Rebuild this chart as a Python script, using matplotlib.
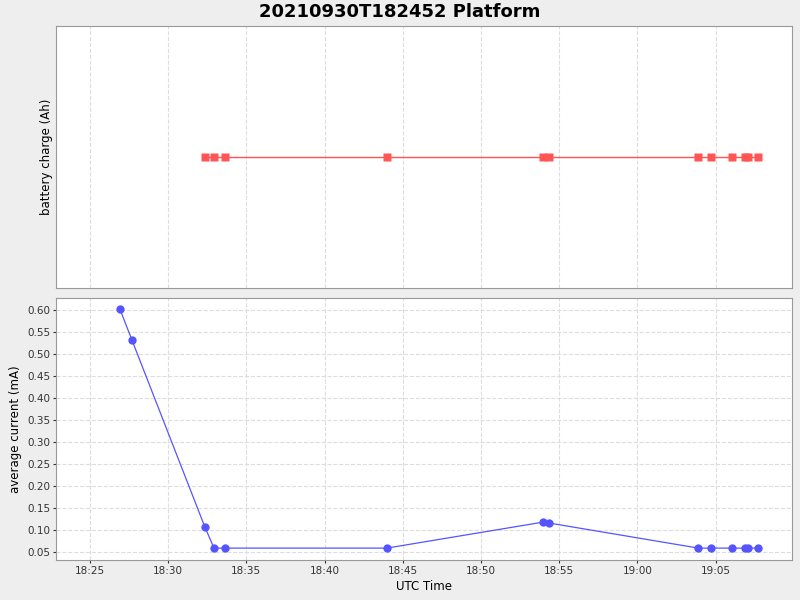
import datetime as dt
import matplotlib
matplotlib.use("Agg")
import matplotlib.pyplot as plt
import matplotlib.dates as mdates

# tempi (HH:MM:SS)
tempi_corrente = ["18:26:55", "18:27:41", "18:32:21", "18:32:56", "18:33:38",
                  "18:43:59", "18:53:58", "18:54:21", "19:03:54", "19:04:42",
                  "19:06:03", "19:06:54", "19:07:03", "19:07:42"]
corrente = [0.602, 0.532, 0.107, 0.059, 0.059, 0.059, 0.118, 0.116,
            0.059, 0.059, 0.059, 0.059, 0.059, 0.059]

tempi_carica = tempi_corrente[2:]
carica = [1.0] * len(tempi_carica)

giorno = dt.date(2021, 9, 30)
conv = lambda s: dt.datetime.combine(giorno, dt.datetime.strptime(s, "%H:%M:%S").time())
tc = [conv(s) for s in tempi_corrente]
tb = [conv(s) for s in tempi_carica]

fig = plt.figure(figsize=(8, 6), dpi=100, facecolor="#eeeeee")
ax1 = fig.add_axes([0.07, 1 - 288 / 600, 0.92, 262 / 600])
ax2 = fig.add_axes([0.07, 1 - 560 / 600, 0.92, 262 / 600], sharex=ax1)

fig.suptitle("20210930T182452 Platform", fontsize=13, fontweight="bold", y=0.995)

ax1.plot(tb, carica, color="#ff5555", lw=1, marker="s", ms=6, mec="none")
ax1.set_ylim(0.5, 1.5)
ax1.set_yticks([])
ax1.set_ylabel("battery charge (Ah)", fontsize=8.5, labelpad=2)
ax1.grid(True, axis="x", ls="--", color="#dddddd", lw=0.8)

ax2.plot(tc, corrente, color="#5555ff", lw=0.9, marker="o", ms=6, mec="none")
ax2.set_ylim(0.032, 0.627)
ax2.set_yticks([0.05 * i for i in range(1, 13)])
ax2.yaxis.set_major_formatter(plt.FormatStrFormatter("%.2f"))
ax2.set_ylabel("average current (mA)", fontsize=8.5, labelpad=4)
ax2.set_xlabel("UTC Time", fontsize=8.5, labelpad=3)
ax2.grid(True, ls="--", color="#dddddd", lw=0.8)

ax2.set_xlim(conv("18:22:50"), conv("19:09:53"))
ax2.xaxis.set_major_locator(mdates.MinuteLocator(byminute=range(0, 60, 5)))
ax2.xaxis.set_major_formatter(mdates.DateFormatter("%H:%M"))

for ax in (ax1, ax2):
    ax.tick_params(labelsize=7.5, colors="#333333", length=2, pad=2)
    for sp in ax.spines.values():
        sp.set_color("#999999")
ax1.tick_params(labelbottom=False, length=0)

fig.savefig("out.png", facecolor=fig.get_facecolor())
